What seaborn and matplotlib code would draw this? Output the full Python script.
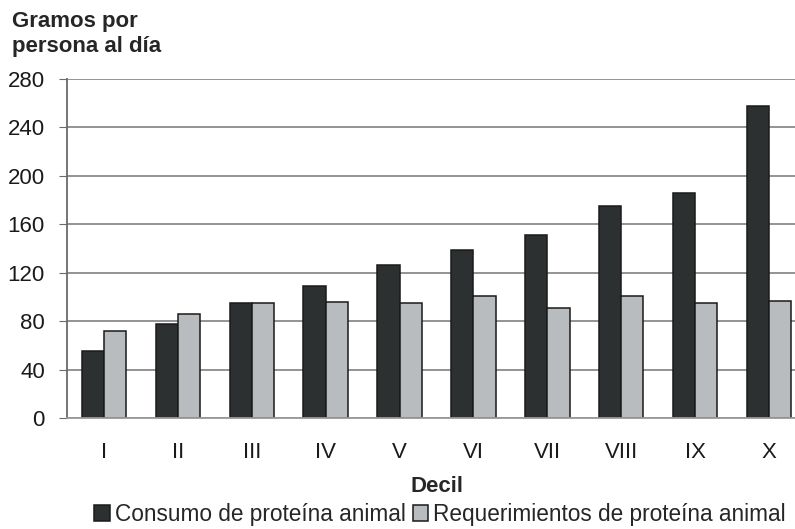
import matplotlib.pyplot as plt
import pandas as pd
import seaborn as sns

deciles = ["I", "II", "III", "IV", "V", "VI", "VII", "VIII", "IX", "X"]
consumo = [55, 78, 95, 109, 126, 139, 151, 175, 186, 258]
requerimientos = [72, 86, 95, 96, 95, 101, 91, 101, 95, 97]
series = ["Consumo de proteína animal", "Requerimientos de proteína animal"]
colors = ["#2d3030", "#b9bcbf"]

df = pd.DataFrame({
    "decil": deciles * 2,
    "valor": consumo + requerimientos,
    "serie": [series[0]] * len(deciles) + [series[1]] * len(deciles),
})

sns.set_style("white")
plt.rcParams["font.family"] = ["Liberation Sans", "DejaVu Sans"]
fs = 16

fig = plt.figure(figsize=(7.95, 5.29), dpi=100)
# axes deliberately extend past the right edge, like the cropped original
ax = fig.add_axes([67 / 795, (529 - 418) / 529, 739 / 795, 339 / 529])

sns.barplot(data=df, x="decil", y="valor", hue="serie", order=deciles,
            hue_order=series, palette=colors, width=0.6, edgecolor="#1a1a1a",
            linewidth=1.1, saturation=1, ax=ax)

ax.set_ylim(0, 280)
ax.set_yticks(range(0, 281, 40))
ax.yaxis.grid(True, color="#8a8a8a", linewidth=1.3)
ax.set_axisbelow(True)
for s in ["top", "right"]:
    ax.spines[s].set_visible(False)
ax.spines["left"].set_color("#6a6a6a")
ax.spines["bottom"].set_color("#9a9a9a")
ax.spines["left"].set_linewidth(1.3)
ax.spines["bottom"].set_linewidth(1.3)
ax.tick_params(axis="y", left=True, length=6, color="#6a6a6a", labelsize=fs,
               pad=10, labelcolor="#1a1a1a")
ax.tick_params(axis="x", bottom=False, labelsize=fs, pad=14, labelcolor="#1a1a1a")

ax.set_ylabel("")
ax.set_xlabel("Decil", fontsize=fs, fontweight="bold", labelpad=9)
fig.text(12 / 795, 1 - 34 / 529, "Gramos por\npersona al día", fontsize=fs,
         fontweight="bold", ha="left", va="center", linespacing=1.3)

handles, labels = ax.get_legend_handles_labels()
ax.legend(handles, labels, loc="center", bbox_to_anchor=(440 / 795, 1 - 514 / 529),
          bbox_transform=fig.transFigure, ncol=2, frameon=False, fontsize=16.3,
          handlelength=0.7, handleheight=0.7, handletextpad=0.2,
          columnspacing=0.3, borderaxespad=0)

fig.savefig("out.png", dpi=100)
